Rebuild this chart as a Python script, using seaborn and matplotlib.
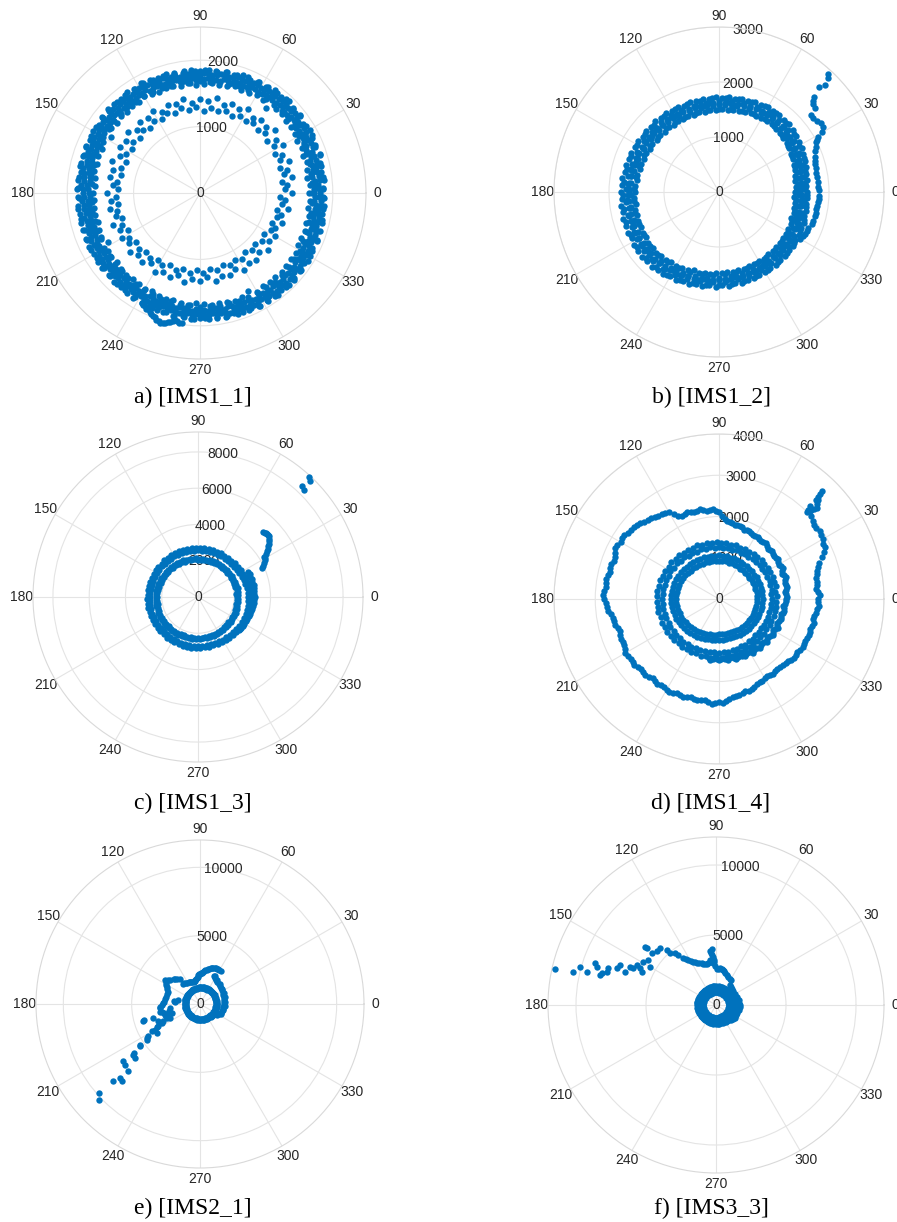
import numpy as np
import matplotlib
matplotlib.use("Agg")
import matplotlib.pyplot as plt
import seaborn as sns

sns.set_theme(style="white")
plt.rcParams["font.family"] = ["Liberation Sans", "DejaVu Sans"]

BLUE = "#0072BD"
TEXT = "#262626"
GRID = "#e4e4e4"
EDGE = "#d9d9d9"
MS = 21

THETA_TICKS = [0, 30, 60, 90, 120, 150, 180, 210, 240, 270, 300, 330]

# angle grids (degrees) shared by the orbit loops
ANG4 = [0, 4, 8, 12, 16, 20, 24, 28, 32, 36, 40, 44, 48, 52, 56, 60, 64, 68, 72, 76,
        80, 84, 88, 92, 96, 100, 104, 108, 112, 116, 120, 124, 128, 132, 136, 140, 144, 148, 152, 156,
        160, 164, 168, 172, 176, 180, 184, 188, 192, 196, 200, 204, 208, 212, 216, 220, 224, 228, 232, 236,
        240, 244, 248, 252, 256, 260, 264, 268, 272, 276, 280, 284, 288, 292, 296, 300, 304, 308, 312, 316,
        320, 324, 328, 332, 336, 340, 344, 348, 352, 356]
ANG4H = [2, 6, 10, 14, 18, 22, 26, 30, 34, 38, 42, 46, 50, 54, 58, 62, 66, 70, 74, 78,
         82, 86, 90, 94, 98, 102, 106, 110, 114, 118, 122, 126, 130, 134, 138, 142, 146, 150, 154, 158,
         162, 166, 170, 174, 178, 182, 186, 190, 194, 198, 202, 206, 210, 214, 218, 222, 226, 230, 234, 238,
         242, 246, 250, 254, 258, 262, 266, 270, 274, 278, 282, 286, 290, 294, 298, 302, 306, 310, 314, 318,
         322, 326, 330, 334, 338, 342, 346, 350, 354, 358]
ANG5 = [0, 5, 10, 15, 20, 25, 30, 35, 40, 45, 50, 55, 60, 65, 70, 75, 80, 85, 90, 95,
        100, 105, 110, 115, 120, 125, 130, 135, 140, 145, 150, 155, 160, 165, 170, 175, 180, 185, 190, 195,
        200, 205, 210, 215, 220, 225, 230, 235, 240, 245, 250, 255, 260, 265, 270, 275, 280, 285, 290, 295,
        300, 305, 310, 315, 320, 325, 330, 335, 340, 345, 350, 355]
ANG5H = [2.5, 7.5, 12.5, 17.5, 22.5, 27.5, 32.5, 37.5, 42.5, 47.5, 52.5, 57.5, 62.5, 67.5, 72.5, 77.5,
         82.5, 87.5, 92.5, 97.5, 102.5, 107.5, 112.5, 117.5, 122.5, 127.5, 132.5, 137.5, 142.5, 147.5,
         152.5, 157.5, 162.5, 167.5, 172.5, 177.5, 182.5, 187.5, 192.5, 197.5, 202.5, 207.5, 212.5, 217.5,
         222.5, 227.5, 232.5, 237.5, 242.5, 247.5, 252.5, 257.5, 262.5, 267.5, 272.5, 277.5, 282.5, 287.5,
         292.5, 297.5, 302.5, 307.5, 312.5, 317.5, 322.5, 327.5, 332.5, 337.5, 342.5, 347.5, 352.5, 357.5]

# ---- a) IMS1_1 ----
A_BAND1 = [1640, 1665, 1630, 1655, 1670, 1645, 1680, 1660, 1690, 1700,
           1685, 1715, 1700, 1620, 1690, 1705, 1680, 1665, 1690, 1660,
           1645, 1670, 1650, 1635, 1660, 1640, 1655, 1670, 1645, 1660,
           1680, 1655, 1670, 1645, 1660, 1640, 1665, 1580, 1650, 1620,
           1640, 1610, 1625, 1600, 1590, 1615, 1595, 1605, 1620, 1600,
           1625, 1640, 1570, 1635, 1650, 1625, 1645, 1660, 1640, 1655,
           1670, 1650, 1665, 1680, 1660, 1675, 1690, 1665, 1680, 1700,
           1675, 1690, 1705, 1685, 1640, 1715, 1690, 1710, 1695, 1720,
           1700, 1685, 1705, 1680, 1665, 1690, 1660, 1675, 1650, 1665]
A_BAND2 = [1720, 1745, 1710, 1735, 1760, 1725, 1750, 1775, 1740, 1790,
           1765, 1800, 1775, 1790, 1760, 1780, 1745, 1765, 1730, 1750,
           1720, 1740, 1715, 1735, 1710, 1740, 1725, 1750, 1730, 1755,
           1740, 1720, 1745, 1725, 1750, 1715, 1735, 1705, 1725, 1690,
           1710, 1680, 1700, 1670, 1690, 1665, 1685, 1670, 1695, 1680,
           1700, 1720, 1695, 1715, 1730, 1705, 1725, 1740, 1715, 1735,
           1750, 1730, 1760, 1745, 1770, 1750, 1775, 1760, 1780, 1755,
           1785, 1765, 1790, 1770, 1800, 1780, 1805, 1785, 1810, 1790,
           1805, 1775, 1795, 1765, 1780, 1750, 1770, 1740, 1760, 1735]
A_BAND3 = [1800, 1775, 1815, 1790, 1825, 1800, 1835, 1810, 1850, 1830,
           1865, 1840, 1870, 1845, 1860, 1830, 1850, 1815, 1835, 1800,
           1820, 1790, 1805, 1780, 1800, 1775, 1795, 1815, 1790, 1810,
           1825, 1800, 1820, 1795, 1815, 1790, 1810, 1785, 1805, 1780,
           1800, 1775, 1795, 1770, 1790, 1765, 1785, 1760, 1780, 1755,
           1775, 1790, 1765, 1785, 1800, 1770, 1790, 1805, 1780, 1800,
           1785, 1805, 1820, 1795, 1815, 1835, 1810, 1830, 1845, 1820,
           1840, 1860, 1835, 1855, 1870, 1845, 1865, 1880, 1855, 1875,
           1850, 1865, 1835, 1850, 1825, 1840, 1810, 1830, 1800, 1820]
A_BAND4 = [1850, 1880, 1845, 1870, 1895, 1860, 1885, 1905, 1870, 1910,
           1885, 1920, 1895, 1915, 1880, 1900, 1865, 1885, 1850, 1870,
           1840, 1860, 1835, 1855, 1830, 1850, 1870, 1845, 1865, 1880,
           1855, 1875, 1850, 1870, 1845, 1865, 1840, 1860, 1835, 1855,
           1830, 1850, 1825, 1845, 1860, 1835, 1855, 1830, 1850, 1825,
           1845, 1860, 1835, 1855, 1830, 1850, 1865, 1840, 1860, 1845,
           1870, 1850, 1880, 1860, 1890, 1870, 1895, 1875, 1900, 1880,
           1905, 1885, 1910, 1890, 1920, 1895, 1925, 1900, 1930, 1905,
           1920, 1890, 1910, 1880, 1900, 1870, 1890, 1860, 1880, 1855]
A_BAND5 = [1720, 1735, 1710, 1745, 1730, 1750, 1740, 1760, 1755, 1770,
           1780, 1765, 1790, 1770, 1785, 1760, 1775, 1745, 1760, 1735,
           1720, 1745, 1725, 1710, 1730, 1715, 1740, 1720, 1735, 1710,
           1740, 1725, 1745, 1715, 1730, 1705, 1725, 1700, 1720, 1695,
           1710, 1690, 1705, 1680, 1700, 1675, 1695, 1685, 1700, 1690,
           1705, 1690, 1715, 1700, 1720, 1710, 1725, 1715, 1735, 1720,
           1740, 1725, 1750, 1735, 1755, 1740, 1765, 1750, 1770, 1755,
           1775, 1760, 1785, 1770, 1790, 1775, 1795, 1780, 1800, 1785,
           1790, 1770, 1785, 1760, 1775, 1745, 1760, 1735, 1750, 1725]
A_BAND6 = [1790, 1810, 1785, 1820, 1805, 1830, 1815, 1840, 1825, 1850,
           1845, 1860, 1840, 1855, 1830, 1845, 1820, 1830, 1805, 1815,
           1790, 1805, 1780, 1795, 1775, 1800, 1785, 1810, 1790, 1815,
           1800, 1790, 1810, 1785, 1805, 1780, 1800, 1770, 1790, 1765,
           1780, 1755, 1770, 1750, 1765, 1745, 1760, 1740, 1760, 1745,
           1765, 1780, 1760, 1775, 1790, 1770, 1785, 1800, 1780, 1795,
           1810, 1795, 1820, 1805, 1830, 1815, 1835, 1820, 1845, 1825,
           1850, 1835, 1855, 1840, 1865, 1845, 1870, 1850, 1875, 1855,
           1865, 1840, 1855, 1830, 1845, 1815, 1835, 1805, 1820, 1795]
A_BAND7 = [1680, 1700, 1690, 1715, 1705, 1730, 1715, 1740, 1725, 1745, 1730, 1720,
           1735, 1710, 1720, 1695, 1705, 1680, 1690, 1670, 1685, 1665, 1690, 1675,
           1695, 1680, 1700, 1685, 1690, 1670, 1680, 1660, 1670, 1650, 1660, 1640,
           1650, 1630, 1645, 1635, 1655, 1640, 1665, 1650, 1670, 1660, 1680, 1670,
           1690, 1680, 1700, 1690, 1710, 1700, 1715, 1705, 1725, 1715, 1735, 1725,
           1745, 1735, 1750, 1740, 1745, 1730, 1735, 1715, 1720, 1700, 1705, 1690]
A_BAND8 = [1860, 1875, 1865, 1890, 1880, 1900, 1885, 1905, 1890, 1910, 1895, 1900,
           1880, 1885, 1865, 1870, 1850, 1855, 1840, 1850, 1835, 1855, 1845, 1860,
           1850, 1865, 1855, 1870, 1850, 1860, 1845, 1855, 1840, 1850, 1835, 1845,
           1830, 1850, 1835, 1855, 1840, 1850, 1835, 1855, 1845, 1860, 1850, 1870,
           1865, 1880, 1875, 1890, 1885, 1900, 1890, 1905, 1900, 1915, 1910, 1925,
           1920, 1935, 1925, 1930, 1915, 1920, 1900, 1905, 1890, 1880, 1875, 1865]
A_INNER1 = [1380, 1320, 1410, 1350, 1430, 1370, 1450, 1390, 1470, 1410, 1440, 1380,
            1460, 1400, 1430, 1370, 1450, 1390, 1420, 1360, 1440, 1380, 1410, 1350,
            1430, 1370, 1400, 1340, 1420, 1360, 1390, 1330, 1410, 1350, 1380, 1320,
            1400, 1340, 1370, 1310, 1390, 1330, 1360, 1300, 1380, 1320, 1350, 1290,
            1370, 1310, 1340, 1280, 1360, 1300, 1330, 1270, 1350, 1290, 1320, 1260,
            1340, 1280, 1310, 1250, 1330, 1270, 1300, 1240, 1320, 1260, 1350, 1290]
A_INNER2 = [1280, 1240, 1300, 1260, 1310, 1270, 1320, 1280, 1330, 1290, 1320, 1280,
            1310, 1250, 1300, 1260, 1290, 1240, 1300, 1260, 1310, 1270, 1300, 1250,
            1290, 1240, 1280, 1230, 1270, 1220, 1260, 1210, 1250, 1220, 1260, 1230,
            1270, 1240, 1280, 1230, 1270, 1220, 1260, 1210, 1250, 1200, 1240, 1190,
            1230, 1180, 1220, 1170, 1210, 1160, 1200, 1150, 1190, 1140, 1180, 1130,
            1170, 1120, 1160, 1130, 1180, 1150, 1200, 1170, 1220, 1190, 1240, 1210]
A_TAIL_T = [242, 243, 244, 245, 246, 247, 248, 249, 250, 251, 252, 253, 254, 255, 256, 257, 258, 259, 260, 261, 262]
A_TAIL_R = [1870, 1890, 1900, 1930, 1920, 1945, 1960, 1990, 1995, 2030, 2020, 2045, 2035, 2020, 2010, 1990,
            1975, 1950, 1965, 1980, 1970]

# ---- b) IMS1_2 ----
B_RING1 = [1380, 1400, 1395, 1420, 1435, 1450, 1470, 1480, 1505, 1520,
           1530, 1545, 1540, 1560, 1550, 1545, 1530, 1545, 1520, 1510,
           1515, 1495, 1510, 1485, 1500, 1480, 1495, 1475, 1500, 1485,
           1495, 1470, 1490, 1480, 1500, 1475, 1495, 1485, 1505, 1490,
           1515, 1500, 1520, 1510, 1535, 1520, 1545, 1530, 1555, 1545,
           1565, 1550, 1575, 1560, 1585, 1570, 1590, 1565, 1575, 1545,
           1560, 1530, 1520, 1500, 1510, 1490, 1495, 1470, 1480, 1465,
           1475, 1455, 1470, 1450, 1465, 1445, 1460, 1440, 1455, 1435,
           1450, 1430, 1440, 1415, 1425, 1400, 1415, 1390, 1400, 1375]
B_RING2 = [1500, 1490, 1525, 1520, 1550, 1570, 1565, 1600, 1595, 1630,
           1640, 1665, 1650, 1680, 1660, 1675, 1650, 1660, 1630, 1640,
           1615, 1630, 1600, 1620, 1590, 1610, 1585, 1605, 1590, 1615,
           1595, 1620, 1600, 1615, 1590, 1610, 1600, 1625, 1610, 1635,
           1615, 1640, 1625, 1650, 1635, 1660, 1645, 1670, 1655, 1680,
           1665, 1690, 1670, 1700, 1680, 1705, 1685, 1695, 1670, 1680,
           1650, 1660, 1630, 1640, 1610, 1620, 1595, 1605, 1585, 1600,
           1575, 1590, 1570, 1585, 1560, 1580, 1555, 1575, 1550, 1565,
           1545, 1560, 1535, 1545, 1520, 1530, 1505, 1515, 1495, 1505]
B_RING3 = [1600, 1585, 1620, 1610, 1650, 1665, 1680, 1700, 1715, 1735,
           1750, 1770, 1760, 1785, 1770, 1780, 1755, 1765, 1735, 1750,
           1720, 1740, 1710, 1730, 1705, 1725, 1700, 1720, 1695, 1715,
           1700, 1725, 1705, 1730, 1710, 1735, 1715, 1740, 1725, 1750,
           1735, 1760, 1745, 1775, 1760, 1790, 1770, 1800, 1780, 1810,
           1790, 1820, 1800, 1830, 1810, 1835, 1815, 1825, 1795, 1805,
           1770, 1780, 1745, 1755, 1720, 1735, 1705, 1720, 1695, 1710,
           1685, 1700, 1680, 1695, 1670, 1690, 1665, 1685, 1660, 1675,
           1650, 1665, 1640, 1650, 1625, 1635, 1610, 1620, 1595, 1605]
B_RING4 = [1560, 1580, 1575, 1610, 1600, 1660, 1615, 1690, 1645, 1720,
           1690, 1755, 1700, 1770, 1710, 1765, 1700, 1750, 1680, 1730,
           1665, 1720, 1650, 1710, 1640, 1700, 1635, 1695, 1640, 1705,
           1645, 1710, 1650, 1705, 1640, 1700, 1650, 1715, 1660, 1725,
           1665, 1730, 1675, 1740, 1685, 1750, 1695, 1760, 1705, 1770,
           1715, 1780, 1720, 1790, 1730, 1795, 1735, 1785, 1720, 1770,
           1700, 1750, 1680, 1730, 1660, 1710, 1645, 1695, 1635, 1690,
           1625, 1680, 1620, 1675, 1610, 1670, 1605, 1665, 1600, 1655,
           1595, 1650, 1585, 1635, 1570, 1620, 1555, 1605, 1545, 1595]
B_RING5 = [1410, 1440, 1435, 1470, 1460, 1520, 1475, 1550, 1505, 1580,
           1550, 1615, 1560, 1630, 1570, 1625, 1560, 1610, 1540, 1590,
           1525, 1580, 1510, 1570, 1500, 1560, 1495, 1555, 1500, 1565,
           1505, 1570, 1510, 1565, 1500, 1560, 1510, 1575, 1520, 1585,
           1525, 1590, 1535, 1600, 1545, 1610, 1555, 1620, 1565, 1630,
           1575, 1640, 1580, 1650, 1590, 1655, 1595, 1645, 1580, 1630,
           1560, 1610, 1540, 1590, 1520, 1570, 1505, 1555, 1495, 1550,
           1485, 1540, 1480, 1535, 1470, 1530, 1465, 1525, 1460, 1515,
           1455, 1510, 1445, 1495, 1430, 1480, 1415, 1465, 1405, 1455]
B_RING6 = [1480, 1520, 1500, 1550, 1545, 1590, 1575, 1620, 1610, 1665, 1640, 1680,
           1650, 1680, 1640, 1660, 1615, 1640, 1595, 1625, 1590, 1620, 1585, 1615,
           1590, 1620, 1585, 1615, 1595, 1625, 1600, 1635, 1610, 1650, 1625, 1660,
           1635, 1670, 1650, 1685, 1660, 1700, 1670, 1710, 1680, 1715, 1675, 1700,
           1650, 1675, 1625, 1640, 1600, 1620, 1580, 1605, 1570, 1595, 1560, 1590,
           1555, 1585, 1545, 1575, 1540, 1565, 1520, 1550, 1505, 1530, 1490, 1510]
B_TAIL_T = [330, 332, 334, 336, 338, 341, 343, 346, 348, 350, 352, 354, 356, 358, 1, 3, 6, 9, 11, 14,
            16, 18, 20, 23, 25, 27, 28, 29, 30, 32, 34, 36, 38, 40, 41, 43, 44, 45, 46.5, 45.3, 46.3, 47.2]
B_TAIL_R = [1700, 1720, 1735, 1745, 1755, 1780, 1790, 1800, 1805, 1795, 1800, 1815, 1820, 1825, 1815,
            1810, 1805, 1800, 1805, 1815, 1825, 1840, 1860, 1895, 1940, 1985, 2020, 2065, 2165, 2240,
            2245, 2205, 2175, 2190, 2315, 2345, 2375, 2445, 2640, 2740, 2860, 2925]

# ---- c) IMS1_3 ----
C_INNER1 = [2160, 2130, 2170, 2140, 2120, 2150, 2110, 2130, 2090, 2120, 2080, 2100,
            2070, 2090, 2060, 2080, 2050, 2075, 2060, 2085, 2070, 2100, 2080, 2110,
            2100, 2130, 2120, 2150, 2140, 2170, 2160, 2200, 2190, 2230, 2220, 2260,
            2240, 2270, 2250, 2280, 2260, 2290, 2270, 2295, 2280, 2300, 2275, 2290,
            2265, 2280, 2255, 2270, 2245, 2260, 2235, 2250, 2225, 2240, 2215, 2230,
            2205, 2220, 2195, 2210, 2185, 2200, 2175, 2190, 2165, 2180, 2150, 2170]
C_INNER2 = [2230, 2210, 2240, 2200, 2220, 2180, 2200, 2160, 2180, 2140, 2160, 2130,
            2150, 2120, 2140, 2110, 2130, 2120, 2140, 2130, 2160, 2150, 2180, 2170,
            2200, 2190, 2220, 2210, 2240, 2235, 2270, 2260, 2300, 2290, 2330, 2320,
            2340, 2330, 2350, 2340, 2360, 2345, 2365, 2350, 2370, 2355, 2360, 2340,
            2350, 2330, 2340, 2320, 2330, 2310, 2320, 2300, 2310, 2290, 2300, 2280,
            2290, 2270, 2280, 2260, 2270, 2250, 2260, 2240, 2250, 2230, 2240, 2220]
C_OUTER1 = [2780, 2760, 2740, 2700, 2680, 2650, 2640, 2610, 2600, 2580, 2590, 2570,
            2580, 2560, 2575, 2555, 2570, 2560, 2575, 2565, 2580, 2570, 2590, 2580,
            2600, 2590, 2610, 2600, 2620, 2610, 2630, 2620, 2640, 2630, 2650, 2640,
            2660, 2650, 2670, 2660, 2680, 2665, 2685, 2670, 2690, 2675, 2695, 2680,
            2700, 2685, 2700, 2690, 2705, 2690, 2700, 2690, 2705, 2695, 2715, 2705,
            2730, 2720, 2745, 2740, 2770, 2765, 2790, 2790, 2810, 2800, 2810, 2795]
C_OUTER2 = [2870, 2880, 2860, 2840, 2850, 2800, 2780, 2750, 2740, 2720, 2725, 2705,
            2715, 2700, 2710, 2690, 2705, 2695, 2710, 2700, 2715, 2705, 2720, 2710,
            2730, 2720, 2740, 2730, 2750, 2740, 2760, 2750, 2770, 2760, 2780, 2770,
            2790, 2780, 2800, 2790, 2805, 2795, 2810, 2800, 2815, 2805, 2820, 2810,
            2820, 2805, 2815, 2800, 2810, 2795, 2805, 2795, 2810, 2800, 2820, 2815,
            2840, 2835, 2865, 2870, 2900, 2910, 2920, 2900, 2890, 2880, 2900, 2880]
C_ARC_T = [27, 24, 21, 18, 15, 12, 9, 6, 3, 0, 357, 354, 351, 348, 345, 342, 339, 336, 333, 330, 327, 324, 321]
C_ARC_R = [3080, 3120, 3100, 3130, 3110, 3140, 3120, 3130, 3110, 3120, 3090, 3100, 3070, 3060, 3030, 3020,
           2990, 2980, 2960, 2950, 2930, 2940, 2920]
C_TAIL_T = [24.6, 25.4, 27, 28.6, 30, 31, 32.5, 33.5, 34.7, 36, 37, 38, 39.2, 40.5, 41.5, 42.5, 43.1, 44, 45]
C_TAIL_R = [3885, 3945, 4100, 4225, 4250, 4265, 4440, 4550, 4665, 4780, 4870, 4980, 5070, 5150, 5190,
            5170, 5130, 5100, 5040]
C_FAR_T = [47.2, 46.0, 46.8, 45.3]
C_FAR_R = [9050, 8930, 8390, 8320]

# ---- d) IMS1_4 ----
D_A = [2410, 2395, 2400, 2405, 2480, 2580, 2780, 2860, 2930, 2915,
       2960, 3080, 1725, 1740, 1750, 1765, 1780, 1800, 1825, 1845,
       1870, 1890, 2010, 2140, 2170, 2190, 2210, 2225, 2230, 2240,
       2440, 2480, 2530, 2585, 2650, 2705, 2735, 2770, 2800, 2760,
       2715, 2740, 2760, 2775, 2793, 2780, 2720, 2650, 2590, 2555,
       2545, 2540, 2580, 2610, 2590, 2570, 2555, 2530, 2518, 2525,
       2537, 2525, 2515, 2500, 2490, 2489, 2505, 2525, 2520, 2430,
       2385, 2360, 2336, 2290, 2250, 2220, 2215, 2218, 2219, 2250,
       2285, 2300, 2315, 2325, 2335, 2345, 2346, 2340, 2370, 2425]
D_A2 = [2440, 2370, 2420, 2460, 2520, 2700, 2850, 2900, 2950, 2930,
        3010, 1700, 1760, 1725, 1785, 1760, 1810, 1790, 1850, 1830,
        1895, 1950, 2110, 2180, 2150, 2220, 2190, 2250, 2210, 2330,
        2470, 2500, 2570, 2610, 2690, 2700, 2770, 2750, 2810, 2730,
        2760, 2720, 2790, 2760, 2820, 2740, 2700, 2610, 2600, 2530,
        2570, 2550, 2620, 2580, 2610, 2540, 2570, 2500, 2550, 2510,
        2560, 2500, 2540, 2470, 2510, 2470, 2540, 2500, 2480, 2400,
        2390, 2330, 2320, 2260, 2240, 2190, 2240, 2200, 2240, 2260,
        2310, 2290, 2340, 2310, 2360, 2330, 2370, 2350, 2400, 2390]
D_B_ANG = [0, 4, 8, 12, 16, 20, 24, 28, 32, 36, 40, 44,
           260, 264, 268, 272, 276, 280, 284, 288, 292, 296, 300, 304, 308, 312, 316, 320, 324, 328,
           332, 336, 340, 344, 348, 352, 356]
D_B = [1620, 1635, 1640, 1655, 1660, 1675, 1680, 1695, 1700, 1710, 1715, 1725,
       1460, 1455, 1450, 1450, 1455, 1455, 1465, 1475, 1485, 1490, 1495, 1500, 1505, 1505, 1515, 1525,
       1535, 1540, 1545, 1550, 1555, 1560, 1575, 1590, 1605]
D_B2_ANG = [2, 6, 10, 14, 18, 22, 26, 30, 34, 38, 42,
            262, 266, 270, 274, 278, 282, 286, 290, 294, 298, 302, 306, 310, 314, 318, 322, 326, 330,
            334, 338, 342, 346, 350, 354, 358]
D_B2 = [1660, 1600, 1680, 1640, 1700, 1650, 1720, 1670, 1735, 1690, 1745,
        1500, 1420, 1490, 1425, 1500, 1440, 1510, 1455, 1525, 1470, 1535, 1480, 1545, 1490, 1555,
        1500, 1570, 1510, 1580, 1525, 1590, 1540, 1610, 1560, 1630]
D_TAIL_T = [44.5, 45, 45.5, 44.2, 43.5, 43, 44, 45.7, 46, 46.1, 46.5, 45]
D_TAIL_R = [3000, 3060, 3150, 3097, 3180, 3250, 3300, 3355, 3450, 3540, 3612, 3400]
D_R1A = [1290, 1260, 1300, 1270, 1310, 1280, 1300, 1265, 1290, 1255, 1280, 1245,
         1270, 1240, 1265, 1235, 1260, 1230, 1255, 1240, 1270, 1250, 1285, 1265,
         1300, 1280, 1320, 1300, 1340, 1320, 1360, 1340, 1375, 1355, 1385, 1365,
         1390, 1370, 1385, 1360, 1375, 1350, 1365, 1340, 1355, 1330, 1345, 1320,
         1335, 1310, 1325, 1300, 1315, 1290, 1305, 1280, 1295, 1270, 1285, 1260,
         1275, 1250, 1265, 1245, 1260, 1240, 1260, 1245, 1270, 1255, 1280, 1265]
D_R1B = [1400, 1380, 1410, 1390, 1420, 1395, 1410, 1380, 1400, 1370, 1390, 1360,
         1380, 1350, 1375, 1345, 1370, 1350, 1375, 1360, 1390, 1375, 1405, 1390,
         1420, 1405, 1440, 1425, 1460, 1445, 1480, 1465, 1500, 1480, 1510, 1495,
         1515, 1495, 1505, 1480, 1495, 1470, 1485, 1460, 1475, 1450, 1465, 1440,
         1455, 1430, 1445, 1420, 1435, 1410, 1425, 1400, 1415, 1390, 1400, 1375,
         1390, 1365, 1380, 1360, 1380, 1365, 1385, 1370, 1395, 1380, 1405, 1390]
D_R2A = [930, 920, 935, 915, 925, 905, 920, 900, 915, 895, 910, 900,
         915, 905, 920, 910, 925, 915, 930, 925, 940, 935, 950, 945,
         960, 960, 975, 975, 990, 995, 1005, 1010, 1020, 1025, 1030, 1035,
         1040, 1035, 1030, 1025, 1015, 1010, 995, 985, 970, 960, 945, 935,
         920, 910, 895, 885, 875, 870, 860, 860, 855, 860, 860, 865,
         870, 875, 880, 885, 890, 895, 900, 905, 910, 915, 920, 925]
D_R2B = [1060, 1050, 1065, 1045, 1055, 1035, 1050, 1030, 1045, 1025, 1040, 1030,
         1045, 1035, 1050, 1040, 1055, 1045, 1060, 1055, 1070, 1065, 1080, 1075,
         1090, 1090, 1105, 1105, 1120, 1125, 1135, 1140, 1150, 1155, 1160, 1165,
         1170, 1165, 1160, 1155, 1145, 1140, 1125, 1115, 1100, 1090, 1075, 1065,
         1050, 1040, 1025, 1015, 1005, 1000, 990, 990, 985, 990, 990, 995,
         1000, 1005, 1010, 1015, 1020, 1025, 1030, 1035, 1040, 1045, 1050, 1055]

# ---- e) IMS2_1 ----
E_RING = [1230, 1240, 1235, 1245, 1240, 1250, 1245, 1255, 1250, 1260, 1255, 1260,
          1250, 1255, 1245, 1250, 1240, 1240, 1230, 1225, 1215, 1210, 1200, 1195,
          1185, 1180, 1170, 1165, 1155, 1150, 1140, 1135, 1130, 1125, 1120, 1120,
          1115, 1115, 1110, 1110, 1110, 1110, 1115, 1115, 1120, 1120, 1125, 1130,
          1135, 1140, 1145, 1150, 1155, 1160, 1165, 1170, 1175, 1180, 1185, 1190,
          1195, 1200, 1205, 1210, 1215, 1215, 1220, 1220, 1225, 1225, 1230, 1230]
E_RING2 = [1170, 1180, 1175, 1185, 1180, 1190, 1185, 1195, 1190, 1195, 1190, 1195,
           1185, 1190, 1180, 1180, 1170, 1170, 1160, 1155, 1145, 1140, 1130, 1125,
           1115, 1110, 1100, 1095, 1085, 1080, 1070, 1065, 1060, 1055, 1050, 1050,
           1045, 1045, 1040, 1040, 1040, 1040, 1045, 1045, 1050, 1050, 1055, 1060,
           1065, 1070, 1075, 1080, 1085, 1090, 1095, 1100, 1105, 1110, 1115, 1120,
           1125, 1130, 1135, 1140, 1145, 1150, 1150, 1155, 1155, 1160, 1160, 1165]
E_HOOK_T = [64, 60, 56, 52, 47, 42, 37, 32, 27, 22, 17, 12, 7, 2, 357, 352, 347, 342, 337, 332, 327,
            62, 54, 45, 35, 25, 15, 5, 355, 345, 335]
E_HOOK_R = [2280, 2200, 2120, 2050, 1990, 1950, 1910, 1880, 1850, 1820, 1800, 1785, 1770, 1760, 1745,
            1730, 1715, 1700, 1680, 1580, 1520,
            2300, 2150, 2030, 1950, 1900, 1860, 1830, 1800, 1770, 1730]
E_ARC_T = [129, 124, 118, 112, 106, 101, 97, 93, 90, 87, 83, 79, 75, 72, 68, 64, 61, 58,
           127, 121, 115, 109, 103, 99, 95, 91, 88, 85, 81, 77, 73, 70, 66, 62]
E_ARC_R = [1930, 1850, 1790, 1730, 1695, 1790, 1880, 2110, 2200, 2306, 2440, 2567, 2680, 2775, 2840,
           2884, 2870, 2852,
           1900, 1820, 1760, 1710, 1740, 1840, 1990, 2160, 2260, 2380, 2500, 2620, 2730, 2800, 2860, 2880]
E_LEFT_T = [145.6, 143, 140.6, 137, 133.4, 129, 148, 152.5, 156, 159.3, 163, 167.8, 172, 176.4, 181.5,
            186, 191.3, 194, 197.4, 200, 203.3, 172.9, 169.5, 175, 188.2, 198.2, 192, 150, 135, 178, 184]
E_LEFT_R = [3087, 2950, 2824, 2640, 2470, 2308, 2900, 2732, 2620, 2540, 2520, 2530, 2600, 2672, 2788,
            2974, 2843, 2750, 2668, 2650, 2640, 1954, 1602, 1800, 2204, 2169, 2300, 2850, 2560, 2720, 2900]
E_TAIL_T = [190.8, 198, 205, 206.6, 209.8, 209.6, 213.9, 196.3, 197, 207.4, 212, 213.8, 214.2, 217.3,
            219.7, 216.8, 219, 222.9, 222.8, 224.6, 221.5, 221.2, 223.7, 195.8, 212.8, 215.4, 216.5,
            202, 204, 208]
E_TAIL_R = [2985, 2575, 2440, 3145, 3800, 4070, 3825, 4320, 3570, 3578, 4467, 4700, 5305, 6124, 6180,
            6995, 7050, 7153, 7960, 8040, 8518, 9860, 10185, 4280, 4614, 5355, 6030, 3300, 3000, 3500]

# ---- f) IMS3_3 ----
F_RING1 = [930, 910, 945, 920, 950, 915, 940, 905, 935, 920, 950, 910,
           940, 915, 945, 905, 935, 920, 950, 910, 940, 915, 945, 900,
           935, 910, 945, 920, 950, 905, 940, 915, 945, 910, 935, 920,
           950, 905, 940, 915, 945, 920, 935, 900, 940, 915, 950, 910,
           945, 920, 935, 905, 950, 915, 940, 910, 945, 920, 935, 905,
           950, 915, 940, 920, 945, 910, 935, 920, 950, 905, 940, 915]
F_RING2 = [1140, 1110, 1150, 1120, 1135, 1105, 1145, 1125, 1150, 1115, 1140, 1110,
           1135, 1120, 1150, 1105, 1140, 1125, 1145, 1115, 1135, 1110, 1150, 1120,
           1140, 1105, 1145, 1125, 1135, 1115, 1150, 1110, 1140, 1120, 1145, 1105,
           1135, 1125, 1150, 1115, 1140, 1110, 1145, 1120, 1135, 1105, 1150, 1125,
           1140, 1115, 1145, 1110, 1135, 1120, 1150, 1105, 1140, 1125, 1145, 1115,
           1150, 1130, 1160, 1140, 1170, 1150, 1165, 1145, 1170, 1150, 1160, 1135]
F_RING3 = [1450, 1430, 1440, 1410, 1420, 1390, 1400, 1370, 1380, 1350, 1370, 1345,
           1360, 1330, 1355, 1335, 1350, 1325, 1345, 1330, 1355, 1325, 1350, 1335,
           1355, 1320, 1350, 1330, 1345, 1325, 1355, 1330, 1350, 1320, 1345, 1335,
           1355, 1325, 1350, 1330, 1345, 1320, 1355, 1335, 1350, 1325, 1345, 1330,
           1355, 1325, 1350, 1335, 1345, 1320, 1355, 1330, 1350, 1340, 1365, 1350,
           1380, 1365, 1400, 1390, 1420, 1410, 1440, 1430, 1455, 1440, 1460, 1445]
F_RIGHT_T = [40, 30, 20, 12, 5, 0, 355, 348, 340, 333, 326, 320, 315, 25, 15, 8, 2, 357, 350, 343, 336, 329]
F_RIGHT_R = [1500, 1560, 1600, 1650, 1680, 1700, 1690, 1650, 1620, 1600, 1660, 1600, 1540, 1520, 1560,
             1600, 1620, 1600, 1570, 1560, 1580, 1560]
F_TAIL_T = [55, 59.6, 66.5, 74.4, 79.2, 83.8, 88.9, 93.7, 94, 94.5, 95.9, 97.6, 100.4, 105.1, 109, 114.9,
            117.6, 121.6, 125, 127, 128.4, 131.3, 131.9, 134.7, 137.5, 141.2, 140.7, 140.6, 146.4, 149.9,
            149.2, 154.2, 155.8, 153.2, 156.1, 156, 159.9, 157.4, 159.7, 161.2, 163, 164.2, 165.5, 161,
            162.2, 165.5, 164.3, 166.8, 167.5]
F_TAIL_R = [1743, 2070, 2207, 2397, 2544, 2634, 2547, 2981, 3460, 3987, 3708, 3242, 3025, 3008, 3146,
            3280, 3491, 3772, 4068, 4470, 4710, 4975, 5276, 5688, 5745, 5891, 6393, 6560, 5802, 5450,
            6040, 6022, 5817, 6343, 6457, 6723, 6920, 7426, 7560, 8121, 8161, 8484, 8555, 9140, 8949,
            9537, 10089, 10460, 11775]
F_TAIL2_T = [45, 50, 40, 35, 62, 70, 77, 81, 86, 91, 93, 95, 96.5, 93.2, 98.5, 102.5, 107, 112, 116, 119.5, 123]
F_TAIL2_R = [1600, 1680, 1550, 1500, 2140, 2300, 2480, 2600, 2590, 2760, 3200, 3600, 3850, 3100, 3130,
             3010, 3080, 3210, 3400, 3630, 3900]

W, H = 897, 1222

PANELS = [
    dict(center=(200, 193), radius=166, rmax=2500, rticks=[0, 1000, 2000],
         caption="a) [IMS1_1]", cap=(193, 397),
         series=[(ANG4, A_BAND1), (ANG4H, A_BAND2), (ANG4, A_BAND3), (ANG4H, A_BAND4),
                 (ANG4, A_BAND5), (ANG4H, A_BAND6), (ANG5, A_BAND7), (ANG5H, A_BAND8),
                 (ANG5, A_INNER1), (ANG5H, A_INNER2), (A_TAIL_T, A_TAIL_R)]),
    dict(center=(719, 192), radius=165, rmax=3000, rticks=[0, 1000, 2000, 3000],
         caption="b) [IMS1_2]", cap=(711, 397),
         series=[(ANG4, B_RING1), (ANG4H, B_RING2), (ANG4, B_RING3), (ANG4H, B_RING4),
                 (ANG4H, B_RING5), (ANG5, B_RING6), (B_TAIL_T, B_TAIL_R)]),
    dict(center=(198, 597), radius=165, rmax=9100, rticks=[0, 2000, 4000, 6000, 8000],
         caption="c) [IMS1_3]", cap=(193, 803),
         series=[(ANG5, C_INNER1), (ANG5H, C_INNER2), (ANG5, C_OUTER1), (ANG5H, C_OUTER2),
                 (C_ARC_T, C_ARC_R), (C_TAIL_T, C_TAIL_R), (C_FAR_T, C_FAR_R)]),
    dict(center=(719, 599), radius=165, rmax=4000, rticks=[0, 1000, 2000, 3000, 4000],
         caption="d) [IMS1_4]", cap=(711, 803),
         series=[(ANG4, D_A), (ANG4H, D_A2), (D_B_ANG, D_B), (D_B2_ANG, D_B2), (D_TAIL_T, D_TAIL_R),
                 (ANG5, D_R1A), (ANG5H, D_R1B), (ANG5, D_R2A), (ANG5, D_R2B)]),
    dict(center=(200, 1004), radius=164, rmax=12000, rticks=[0, 5000, 10000],
         caption="e) [IMS2_1]", cap=(193, 1208),
         series=[(ANG5, E_RING), (ANG5H, E_RING2), (E_HOOK_T, E_HOOK_R), (E_ARC_T, E_ARC_R),
                 (E_LEFT_T, E_LEFT_R), (E_TAIL_T, E_TAIL_R)]),
    dict(center=(716, 1005), radius=168, rmax=12000, rticks=[0, 5000, 10000],
         caption="f) [IMS3_3]", cap=(711, 1208),
         series=[(ANG5, F_RING1), (ANG5H, F_RING2), (ANG5, F_RING3), (F_RIGHT_T, F_RIGHT_R),
                 (F_TAIL_T, F_TAIL_R), (F_TAIL2_T, F_TAIL2_R)]),
]

fig = plt.figure(figsize=(W / 100, H / 100), dpi=100)
fig.patch.set_facecolor("white")

for p in PANELS:
    cx, cy = p["center"]
    R = p["radius"]
    rect = [(cx - R) / W, 1 - (cy + R) / H, 2 * R / W, 2 * R / H]
    ax = fig.add_axes(rect, projection="polar")
    ax.set_facecolor("white")
    for th, rr in p["series"]:
        sns.scatterplot(x=np.deg2rad(np.asarray(th, dtype=float)), y=np.asarray(rr, dtype=float),
                        ax=ax, s=MS, color=BLUE, linewidth=0, legend=False, zorder=3, clip_on=False)
    ax.set_ylim(0, p["rmax"])
    ax.set_yticks(p["rticks"])
    ax.set_yticklabels([])
    ax.set_xticks(np.deg2rad(THETA_TICKS))
    ax.set_xticklabels([str(t) for t in THETA_TICKS])
    ax.tick_params(axis="x", pad=-5, labelsize=10, labelcolor=TEXT)
    ax.grid(True, color=GRID, linewidth=0.8)
    ax.spines["polar"].set_color(EDGE)
    ax.spines["polar"].set_linewidth(0.8)
    ax.set_xlabel("")
    ax.set_ylabel("")
    for v in p["rticks"]:
        ax.text(np.deg2rad(80), v, f"{v}", ha="center", va="center", fontsize=10,
                color=TEXT, zorder=2)
    fig.text(p["cap"][0] / W, 1 - p["cap"][1] / H, p["caption"], ha="center", va="center",
             fontsize=17, family="Liberation Serif", color="black")

fig.savefig("out.png", dpi=100, facecolor="white")
